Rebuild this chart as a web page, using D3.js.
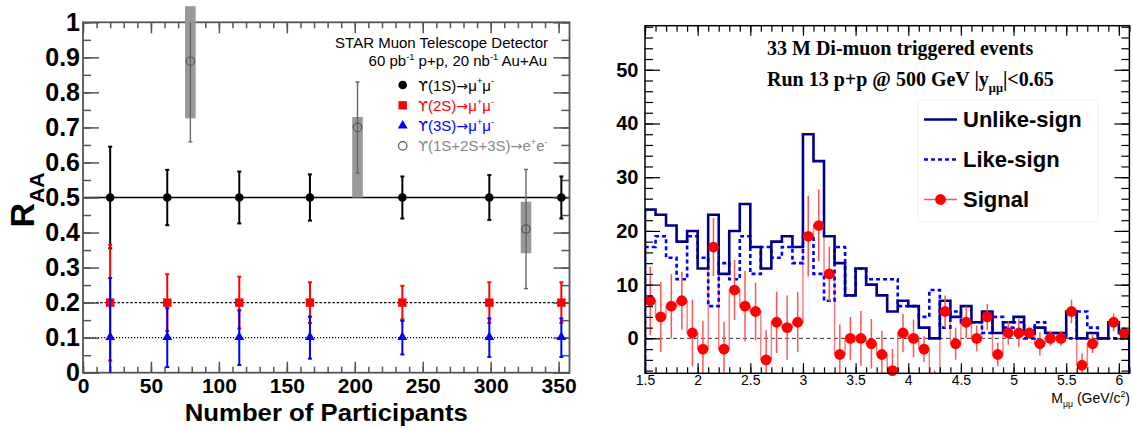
<!DOCTYPE html>
<html><head><meta charset="utf-8">
<script src="https://cdn.jsdelivr.net/npm/d3@7"></script>
<style>body{margin:0;background:#fff}svg{display:block}</style>
</head><body>
<svg id="fig" width="1133" height="428"></svg>
<script>
// ---------- Left panel: Upsilon R_AA vs Npart ----------
const npart   = [20, 62, 115, 167, 235, 299, 352];
const raa1S   = [0.5, 0.5, 0.5, 0.5, 0.5, 0.5, 0.5];
const err1S   = [0.145, 0.079, 0.074, 0.066, 0.06, 0.064, 0.06];
const raa2S   = [0.2, 0.2, 0.2, 0.2, 0.2, 0.2, 0.2];
const err2S   = [0.165, 0.081, 0.074, 0.058, 0.048, 0.058, 0.058];
const raa3S   = [0.1, 0.1, 0.1, 0.1, 0.1, 0.1, 0.1];
const err3S   = [0.17, 0.084, 0.078, 0.06, 0.048, 0.055, 0.055];
const npartEE = [79, 202, 326];
const raaEE   = [0.889, 0.70, 0.41];
const statEE  = [0.23, 0.13, 0.17];
const sysUpEE = [0.157, 0.03, 0.078];
const sysDnEE = [0.163, 0.20, 0.069];
const refLevels = [0.5, 0.2, 0.1];
const xTicksL = [0, 50, 100, 150, 200, 250, 300, 350];
const yTicksL = [0, 0.1, 0.2, 0.3, 0.4, 0.5, 0.6, 0.7, 0.8, 0.9, 1];

// ---------- Right panel: di-muon invariant mass ----------
const massLow = [1.5,1.6,1.7,1.8,1.9,2.0,2.1,2.2,2.3,2.4,2.5,2.6,2.7,2.8,2.9,3.0,3.1,3.2,3.3,3.4,
                 3.5,3.6,3.7,3.8,3.9,4.0,4.1,4.2,4.3,4.4,4.5,4.6,4.7,4.8,4.9,5.0,5.1,5.2,5.3,5.4,
                 5.5,5.6,5.7,5.8,5.9,6.0];
const massHigh = 6.1;
const unlikeSign = [24,23,21,18,20,13,23,12,20,25, 17,13,18,19,17,38,33,19,14,8,
                    13,10,8,5,7,6,2,0,7,4, 6,3,5,1,3,4,1,2,1,1, 5,0,1,0,3,1];
const likeSign   = [17,19,15,11,19,15,6,14,11,19, 12,17,15,17,14,19,12,7,17,8,
                    13,11,11,11,6,6,4,9,2,5, 3,3,1,4,2,3,0,3,1,1, 0,5,2,0,0,0];
const signal     = [7,4,6,7,1,-2,17,-2,9,6, 5,-4,3,2,3,19,21,12,-3,0,
                    0,-1,-3,-6,1,0,-2,-9,5,-1, 3,0,4,-3,1,1,1,-1,0,0, 5,-5,-1,0,3,1];
const signalErr  = [6.4,6.5,6.0,5.4,6.2,5.3,5.4,5.1,5.6,6.6, 5.4,5.5,5.7,6.0,5.6,7.5,6.7,5.1,5.6,4.0,
                    5.1,4.6,4.4,4.0,3.6,3.5,2.4,3.0,3.0,3.0, 3.0,2.4,2.4,2.2,2.2,2.6,1.0,2.2,1.4,1.4,
                    2.2,2.2,1.7,0,1.7,1.0];
const xTicksR = [1.5, 2, 2.5, 3, 3.5, 4, 4.5, 5, 5.5, 6];
const yTicksR = [0, 10, 20, 30, 40, 50];

const SANS = "'Liberation Sans', Arial, Helvetica, sans-serif";
const SERIF = "'Liberation Serif', 'Times New Roman', serif";
const SYM = "'DejaVu Sans', sans-serif";
const svg = d3.select("#fig");

// text with super/subscript pieces; a third entry "sym" switches to the symbol font
function rich(sel, parts, size) {
  let shift = 0;
  parts.forEach(([t, k]) => {
    const target = k === "sup" ? -0.42 * size : k === "sub" ? 0.3 * size : 0;
    const ts = sel.append("tspan").attr("dy", target - shift)
      .attr("font-size", (k === "sup" || k === "sub") ? size * 0.62 : size).text(t);
    if (k === "sym") ts.attr("font-family", SYM).attr("font-size", size * 0.95);
    shift = target;
  });
  return sel;
}
function styleTicks(g, color, width) {
  g.select(".domain").remove();
  g.selectAll(".tick line").attr("stroke", color).attr("stroke-width", width);
}

// ================= LEFT PANEL =================
const xL = d3.scaleLinear().domain([0, 358]).range([83, 569.5]);
const yL = d3.scaleLinear().domain([0, 1]).range([372.7, 22.3]);
const L = svg.append("g");
const axisColL = "#555";

// reference levels
L.selectAll("line.ref").data(refLevels).join("line")
  .attr("x1", xL(0)).attr("x2", xL(358))
  .attr("y1", d => yL(d)).attr("y2", d => yL(d))
  .attr("stroke", "#000")
  .attr("stroke-width", (d, i) => i === 0 ? 1.6 : 1.3)
  .attr("stroke-dasharray", (d, i) => i === 0 ? null : i === 1 ? "2.5,1.8" : "1.2,1.8");

// ticks
const gxb = L.append("g").attr("transform", `translate(0,${yL(0)})`);
gxb.call(d3.axisBottom(xL).tickValues(d3.range(0, 359, 10)).tickSize(-6).tickFormat(""));
styleTicks(gxb, axisColL, 1.5);
const gxbM = L.append("g").attr("transform", `translate(0,${yL(0)})`);
gxbM.call(d3.axisBottom(xL).tickValues(xTicksL).tickSize(-11).tickPadding(5.9).tickFormat(d3.format("d")));
styleTicks(gxbM, axisColL, 1.5);
gxbM.selectAll("text").attr("font-family", SANS).attr("font-weight", "bold").attr("font-size", 21).attr("fill", "#000");

const gxt = L.append("g").attr("transform", `translate(0,${yL(1)})`);
gxt.call(d3.axisTop(xL).tickValues(d3.range(0, 359, 10)).tickSize(-6).tickFormat(""));
styleTicks(gxt, axisColL, 1.5);
const gxtM = L.append("g").attr("transform", `translate(0,${yL(1)})`);
gxtM.call(d3.axisTop(xL).tickValues(xTicksL).tickSize(-11).tickFormat(""));
styleTicks(gxtM, axisColL, 1.5);

const gyl = L.append("g").attr("transform", `translate(${xL(0)},0)`);
gyl.call(d3.axisLeft(yL).tickValues(d3.range(0, 21).map(d => d / 20)).tickSize(-8).tickFormat(""));
styleTicks(gyl, axisColL, 1.5);
const gylM = L.append("g").attr("transform", `translate(${xL(0)},0)`);
gylM.call(d3.axisLeft(yL).tickValues(yTicksL).tickSize(-16).tickPadding(3).tickFormat(d3.format("~g")));
styleTicks(gylM, axisColL, 1.5);
gylM.selectAll("text").attr("font-family", SANS).attr("font-weight", "bold").attr("font-size", 25).attr("fill", "#000");

const gyr = L.append("g").attr("transform", `translate(${xL(358)},0)`);
gyr.call(d3.axisRight(yL).tickValues(d3.range(0, 21).map(d => d / 20)).tickSize(-8).tickFormat(""));
styleTicks(gyr, axisColL, 1.5);
const gyrM = L.append("g").attr("transform", `translate(${xL(358)},0)`);
gyrM.call(d3.axisRight(yL).tickValues(yTicksL).tickSize(-16).tickFormat(""));
styleTicks(gyrM, axisColL, 1.5);

// frame
L.append("rect").attr("x", xL(0)).attr("y", yL(1))
  .attr("width", xL(358) - xL(0)).attr("height", yL(0) - yL(1))
  .attr("fill", "none").attr("stroke", axisColL).attr("stroke-width", 1.8);

// error bars with small caps, clipped to the frame
function errBars(g, xs, ys, es, color, width) {
  xs.forEach((x, i) => {
    const lo = Math.max(0, ys[i] - es[i]), hi = Math.min(1, ys[i] + es[i]);
    const px = xL(x);
    g.append("line").attr("x1", px).attr("x2", px).attr("y1", yL(lo)).attr("y2", yL(hi))
      .attr("stroke", color).attr("stroke-width", width);
    [[lo, ys[i] - es[i] >= 0], [hi, ys[i] + es[i] <= 1]].forEach(([v, show]) => {
      if (show) g.append("line").attr("x1", px - 2).attr("x2", px + 2)
        .attr("y1", yL(v)).attr("y2", yL(v)).attr("stroke", color).attr("stroke-width", width);
    });
  });
}

errBars(L, npart, raa1S, err1S, "#000", 2);
L.selectAll("circle.s1").data(npart).join("circle")
  .attr("cx", d => xL(d)).attr("cy", (d, i) => yL(raa1S[i])).attr("r", 4.3).attr("fill", "#000");

errBars(L, npart, raa2S, err2S, "#ff0000", 2);
L.selectAll("rect.s2").data(npart).join("rect")
  .attr("x", d => xL(d) - 4.2).attr("y", (d, i) => yL(raa2S[i]) - 4.2)
  .attr("width", 8.4).attr("height", 8.4).attr("fill", "#ff0000");

errBars(L, npart, raa3S, err3S, "#0000ff", 2);
const tri = d3.symbol().type(d3.symbolTriangle).size(42);
L.selectAll("path.s3").data(npart).join("path")
  .attr("transform", (d, i) => `translate(${xL(d)},${yL(raa3S[i]) - 0.5})`)
  .attr("d", tri).attr("fill", "#0000ff");

// e+e- channel: systematic boxes, stat bars, open circles
L.selectAll("rect.sys").data(npartEE).join("rect")
  .attr("x", d => xL(d) - 5.3).attr("width", 10.6)
  .attr("y", (d, i) => yL(raaEE[i] + sysUpEE[i]))
  .attr("height", (d, i) => yL(raaEE[i] - sysDnEE[i]) - yL(raaEE[i] + sysUpEE[i]))
  .attr("fill", "#999");
errBars(L, npartEE, raaEE, statEE, "#666", 1.4);
L.selectAll("circle.ee").data(npartEE).join("circle")
  .attr("cx", d => xL(d)).attr("cy", (d, i) => yL(raaEE[i])).attr("r", 4.2)
  .attr("fill", "none").attr("stroke", "#555").attr("stroke-width", 1.2);

// header text
L.append("text").attr("x", 548).attr("y", 48).attr("text-anchor", "end")
  .attr("font-family", SANS).attr("font-size", 15).text("STAR Muon Telescope Detector");
rich(L.append("text").attr("x", 547).attr("y", 66).attr("text-anchor", "end")
  .attr("font-family", SANS), [["60 pb"], ["-1", "sup"], [" p+p, 20 nb"], ["-1", "sup"], [" Au+Au"]], 15);

// legend
const legL = [
  { decay: [["ϒ", "sym"], ["(1S)"], ["→", "sym"], ["μ"], ["+", "sup"], ["μ"], ["-", "sup"]], color: "#000", sym: "circle" },
  { decay: [["ϒ", "sym"], ["(2S)"], ["→", "sym"], ["μ"], ["+", "sup"], ["μ"], ["-", "sup"]], color: "#ff0000", sym: "square" },
  { decay: [["ϒ", "sym"], ["(3S)"], ["→", "sym"], ["μ"], ["+", "sup"], ["μ"], ["-", "sup"]], color: "#0000ff", sym: "triangle" },
  { decay: [["ϒ", "sym"], ["(1S+2S+3S)"], ["→", "sym"], ["e"], ["+", "sup"], ["e"], ["-", "sup"]], color: "#888", sym: "open" }
];
legL.forEach((e, i) => {
  const cy = 85 + i * 20.3;
  if (e.sym === "circle") L.append("circle").attr("cx", 402.7).attr("cy", cy).attr("r", 4.3).attr("fill", e.color);
  if (e.sym === "square") L.append("rect").attr("x", 398.5).attr("y", cy - 4.2).attr("width", 8.4).attr("height", 8.4).attr("fill", e.color);
  if (e.sym === "triangle") L.append("path").attr("transform", `translate(402.7,${cy})`).attr("d", tri).attr("fill", e.color);
  if (e.sym === "open") L.append("circle").attr("cx", 402.7).attr("cy", cy).attr("r", 4.2).attr("fill", "none").attr("stroke", "#555").attr("stroke-width", 1.2);
  rich(L.append("text").attr("x", 418).attr("y", cy + 5.5).attr("font-family", SANS).attr("fill", e.color), e.decay, 15);
});

// axis titles
L.append("text").attr("x", (xL(0) + xL(358)) / 2).attr("y", 420.5).attr("text-anchor", "middle")
  .attr("font-family", SANS).attr("font-weight", "bold").attr("font-size", 24)
  .attr("textLength", 283).attr("lengthAdjust", "spacingAndGlyphs").text("Number of Participants");
rich(L.append("text").attr("transform", "translate(34,200) rotate(-90)").attr("text-anchor", "middle")
  .attr("font-family", SANS).attr("font-weight", "bold"), [["R"], ["AA", "sub"]], 34);

// ================= RIGHT PANEL =================
const xR = d3.scaleLinear().domain([1.5, 6.1]).range([645, 1129.4]);
const yR = d3.scaleLinear().domain([-6.5, 58.2]).range([373.3, 25.7]);
const R = svg.append("g");
const yMin = yR.domain()[0];

svg.append("defs").append("clipPath").attr("id", "plotR").append("rect")
  .attr("x", xR(1.5)).attr("y", yR(58.2)).attr("width", xR(6.1) - xR(1.5)).attr("height", yR(yMin) - yR(58.2));

// zero line
R.append("line").attr("x1", xR(1.5)).attr("x2", xR(6.1)).attr("y1", yR(0)).attr("y2", yR(0))
  .attr("stroke", "#333").attr("stroke-width", 1).attr("stroke-dasharray", "4,3");

const plot = R.append("g").attr("clip-path", "url(#plotR)");

// histogram outline through bin edges, from the lower frame edge
function stepPoints(vals) {
  const pts = [[massLow[0], yMin]];
  vals.forEach((v, i) => {
    pts.push([massLow[i], v]);
    pts.push([i + 1 < massLow.length ? massLow[i + 1] : massHigh, v]);
  });
  pts.push([massHigh, yMin]);
  return pts;
}
const stepLine = d3.line().x(d => xR(d[0])).y(d => yR(d[1]));

// signal: step outline, error bars, markers
const sigColor = "#ff5555";
plot.append("path").attr("d", stepLine(stepPoints(signal).slice(1, -1)))
  .attr("fill", "none").attr("stroke", sigColor).attr("stroke-width", 1.4).attr("stroke-opacity", 0.8);

plot.append("path").attr("d", stepLine(stepPoints(likeSign)))
  .attr("fill", "none").attr("stroke", "#0000ff").attr("stroke-width", 2.6).attr("stroke-dasharray", "4,3");
plot.append("path").attr("d", stepLine(stepPoints(unlikeSign)))
  .attr("fill", "none").attr("stroke", "#00008b").attr("stroke-width", 2.6);

const sigPts = massLow.map((m, i) => ({ x: m + 0.05, y: signal[i], e: signalErr[i] }));
plot.selectAll("line.err").data(sigPts.filter(d => d.e > 0)).join("line")
  .attr("x1", d => xR(d.x)).attr("x2", d => xR(d.x))
  .attr("y1", d => yR(d.y - d.e)).attr("y2", d => yR(d.y + d.e))
  .attr("stroke", sigColor).attr("stroke-width", 1.5);

R.selectAll("circle.sig").data(sigPts.filter(d => d.e > 0 && d.y >= yMin && d.y <= 58.2))
  .join("circle")
  .attr("cx", d => xR(d.x)).attr("cy", d => yR(d.y)).attr("r", 5.4).attr("fill", "#ff0000");

// ticks
const tc = "#000";
function axisR(gen, tr) {
  const g = R.append("g").attr("transform", tr).call(gen);
  styleTicks(g, tc, 1.2);
  return g;
}
const minorX = d3.range(15, 62).map(d => d / 10);
const minorY = d3.range(-6, 59, 2);
axisR(d3.axisBottom(xR).tickValues(minorX).tickSize(-6).tickFormat(""), `translate(0,${yR(yMin)})`);
const gxR = axisR(d3.axisBottom(xR).tickValues(xTicksR).tickSize(-10).tickPadding(2).tickFormat(d3.format("~g")), `translate(0,${yR(yMin)})`);
gxR.selectAll("text").attr("font-family", SANS).attr("font-size", 14).attr("fill", "#000");
axisR(d3.axisTop(xR).tickValues(minorX).tickSize(-6).tickFormat(""), `translate(0,${yR(58.2)})`);
axisR(d3.axisTop(xR).tickValues(xTicksR).tickSize(-10).tickFormat(""), `translate(0,${yR(58.2)})`);
axisR(d3.axisLeft(yR).tickValues(minorY).tickSize(-8).tickFormat(""), `translate(${xR(1.5)},0)`);
const gyR = axisR(d3.axisLeft(yR).tickValues(yTicksR).tickSize(-15).tickPadding(6.5).tickFormat(d3.format("d")), `translate(${xR(1.5)},0)`);
gyR.selectAll("text").attr("font-family", SANS).attr("font-weight", "bold").attr("font-size", 20).attr("fill", "#000");
axisR(d3.axisRight(yR).tickValues(minorY).tickSize(-8).tickFormat(""), `translate(${xR(6.1)},0)`);
axisR(d3.axisRight(yR).tickValues(yTicksR).tickSize(-15).tickFormat(""), `translate(${xR(6.1)},0)`);

R.append("rect").attr("x", xR(1.5)).attr("y", yR(58.2))
  .attr("width", xR(6.1) - xR(1.5)).attr("height", yR(yMin) - yR(58.2))
  .attr("fill", "none").attr("stroke", "#000").attr("stroke-width", 1.5);

// titles
R.append("text").attr("x", 767).attr("y", 55).attr("font-family", SERIF).attr("font-weight", "bold")
  .attr("font-size", 20).text("33 M Di-muon triggered events");
rich(R.append("text").attr("x", 767).attr("y", 86).attr("font-family", SERIF).attr("font-weight", "bold"),
  [["Run 13 p+p @ 500 GeV |y"], ["μμ", "sub"], ["|<0.65"]], 20);

// legend
R.append("rect").attr("x", 918).attr("y", 100).attr("width", 180).attr("height", 122)
  .attr("fill", "#fff").attr("stroke", "#f0f0f0").attr("stroke-width", 1);
const legR = [
  { label: "Unlike-sign", stroke: "#00008b", dash: null },
  { label: "Like-sign", stroke: "#0000ff", dash: "4,3" },
  { label: "Signal", stroke: sigColor, dash: null, dot: true }
];
legR.forEach((e, i) => {
  const cy = 119.5 + i * 40;
  R.append("line").attr("x1", 924).attr("x2", 957).attr("y1", cy).attr("y2", cy)
    .attr("stroke", e.stroke).attr("stroke-width", e.dot ? 1.4 : 2.6).attr("stroke-dasharray", e.dash);
  if (e.dot) R.append("circle").attr("cx", 940.5).attr("cy", cy).attr("r", 5.4).attr("fill", "#ff0000");
  R.append("text").attr("x", 963).attr("y", cy + 7.8).attr("font-family", SANS).attr("font-weight", "bold")
    .attr("font-size", 22).text(e.label);
});

rich(R.append("text").attr("x", 1130).attr("y", 403).attr("text-anchor", "end").attr("font-family", SANS),
  [["M"], ["μμ", "sub"], [" (GeV/c"], ["2", "sup"], [")"]], 14);
</script>
</body></html>
